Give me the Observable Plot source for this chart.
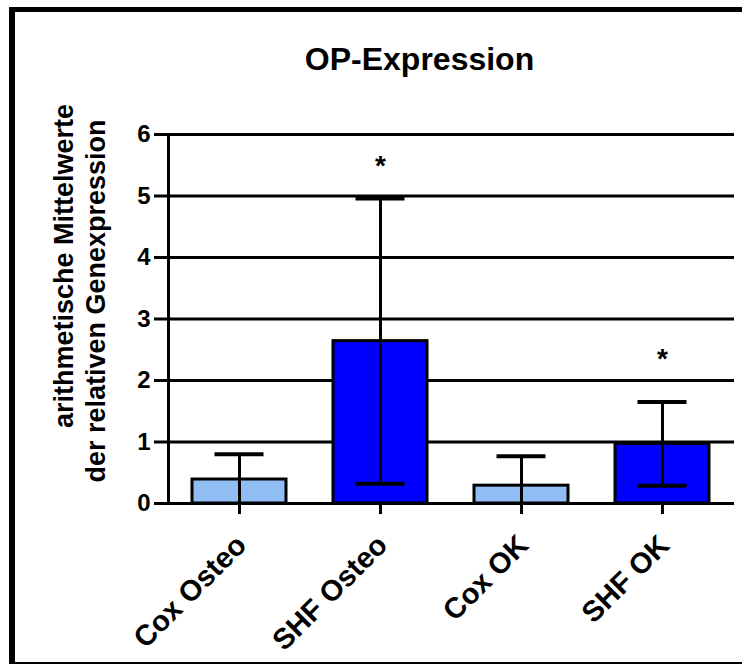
<!DOCTYPE html>
<html>
<head>
<meta charset="utf-8">
<script src="https://cdn.jsdelivr.net/npm/d3@7"></script>
<script src="https://cdn.jsdelivr.net/npm/@observablehq/plot@0.6"></script>
<style>
  html, body { margin: 0; padding: 0; background: #fff; }
  #wrap { position: relative; width: 742px; height: 664px; overflow: hidden; background: #fff; }
  #border { position: absolute; left: 9px; top: 7px; width: 760px; height: 650px;
            border-left: 6px solid #000; border-top: 5px solid #000; border-bottom: 4px solid #000; }
  #chart { position: absolute; left: 0; top: 0; }
</style>
</head>
<body>
<div id="wrap"><div id="border"></div><div id="chart"></div></div>
<script>
const categories = ["Cox Osteo", "SHF Osteo", "Cox OK", "SHF OK"];
const groups = ["Cox", "SHF", "Cox", "SHF"];
const means = [0.39, 2.64, 0.29, 0.97];
const sds = [0.41, 2.32, 0.48, 0.68];
const starLabels = ["", "*", "", "*"];
const starY = [null, 5.58, null, 2.44];
const yTicks = [0, 1, 2, 3, 4, 5, 6];
const gridValues = [1, 2, 3, 4, 5, 6];
const title = "OP-Expression";
const yTitle = ["arithmetische Mittelwerte", "der relativen Genexpression"];
const groupColors = {Cox: "#90bdf4", SHF: "#0000ff"};

const data = categories.map((c, i) => ({
  cat: c,
  group: groups[i],
  mean: means[i],
  upper: means[i] + sds[i],
  lower: Math.max(0, means[i] - sds[i]),
  hasLowerCap: means[i] - sds[i] > 0,
  star: starLabels[i],
  starY: starY[i]
}));

const font = "'Liberation Sans', Arial, Helvetica, sans-serif";
const capInset = 22.5;

const plot = Plot.plot({
  width: 742,
  height: 664,
  marginLeft: 168,
  marginRight: 8,
  marginTop: 134,
  marginBottom: 161,
  style: {fontFamily: font, fontWeight: "bold", color: "#000", background: "transparent"},
  x: {type: "band", domain: categories, paddingInner: 0.33, paddingOuter: 0.165, align: 0.5},
  y: {domain: [0, 6]},
  marks: [
    Plot.ruleY(gridValues, {stroke: "#000", strokeWidth: 3}),
    Plot.barY(data, {x: "cat", y: "mean", fill: d => groupColors[d.group], stroke: "#000", strokeWidth: 3}),
    Plot.ruleX(data, {x: "cat", y1: "lower", y2: "upper", stroke: "#000", strokeWidth: 3}),
    Plot.tickY(data, {x: "cat", y: "upper", stroke: "#000", strokeWidth: 4, insetLeft: capInset, insetRight: capInset}),
    Plot.tickY(data.filter(d => d.hasLowerCap), {x: "cat", y: "lower", stroke: "#000", strokeWidth: 4, insetLeft: capInset, insetRight: capInset}),
    Plot.ruleY([0], {stroke: "#000", strokeWidth: 3}),
    Plot.frame({anchor: "left", stroke: "#000", strokeWidth: 3}),
    Plot.axisY({ticks: yTicks, tickFormat: () => "", tickSize: 14, strokeWidth: 3, label: null}),
    Plot.text(yTicks, {y: d => d, text: d => String(d), frameAnchor: "left", textAnchor: "end", lineAnchor: "middle",
                dx: -18, fontSize: 24, fontWeight: "bold", fill: "#000"}),
    Plot.axisX({tickSize: 11, strokeWidth: 3, tickFormat: () => "", label: null}),
    Plot.text(categories, {x: d => d, frameAnchor: "bottom", dx: 2, dy: 37, rotate: -45, textAnchor: "end", lineAnchor: "middle",
                fontSize: 29, fontWeight: "bold", fill: "#000"}),
    Plot.text(data.filter(d => d.star), {x: "cat", y: "starY", text: "star", fontSize: 28, fontWeight: "bold", dy: 6, fill: "#000"}),
    Plot.text([title], {frameAnchor: "top", textAnchor: "middle", lineAnchor: "middle", dx: -32, dy: -75, fontSize: 32, fontWeight: "bold", fill: "#000"}),
    Plot.text([yTitle[0]], {frameAnchor: "left", textAnchor: "middle", lineAnchor: "middle", rotate: -90, dx: -104, dy: -53, fontSize: 27, fontWeight: "bold", fill: "#000"}),
    Plot.text([yTitle[1]], {frameAnchor: "left", textAnchor: "middle", lineAnchor: "middle", rotate: -90, dx: -72, dy: -18, fontSize: 27, fontWeight: "bold", fill: "#000"})
  ]
});
document.getElementById("chart").appendChild(plot);
</script>
</body>
</html>
